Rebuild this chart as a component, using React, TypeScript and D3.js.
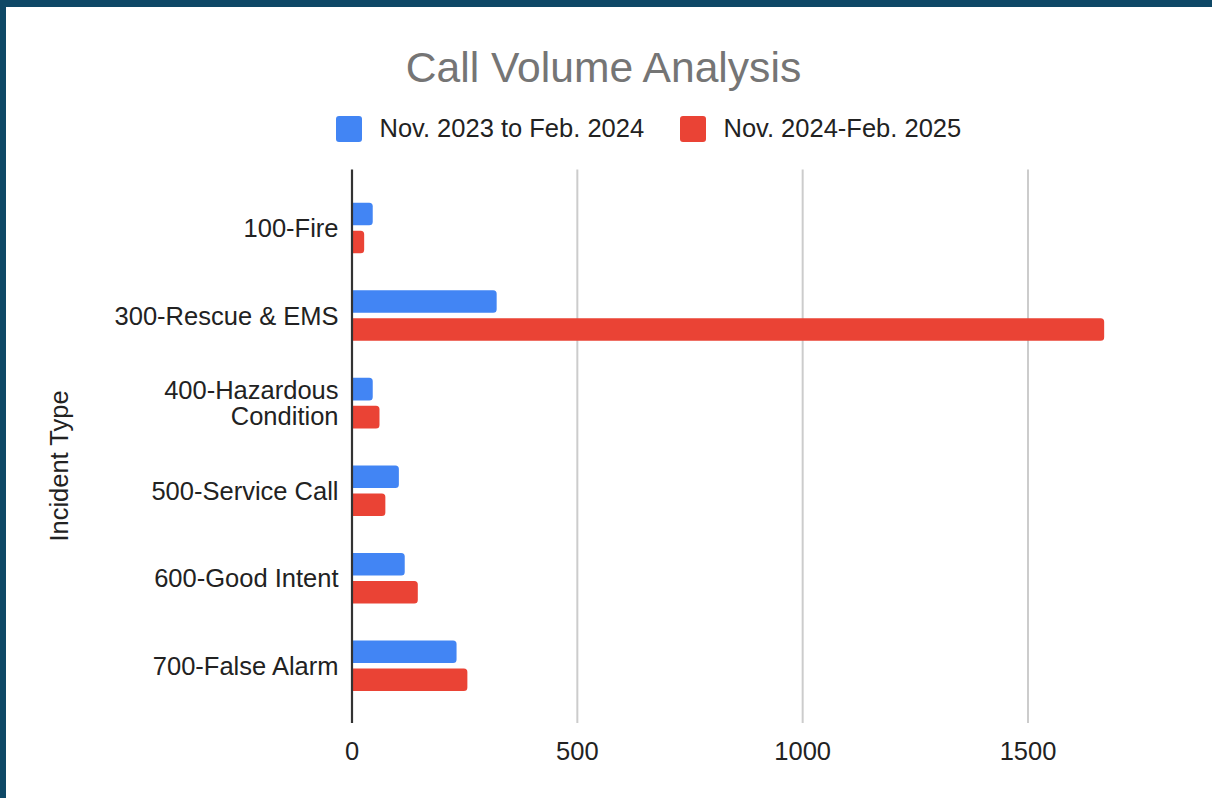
import React from "react";
import * as d3 from "d3";

const categories: string[][] = [
  ["100-Fire"],
  ["300-Rescue & EMS"],
  ["400-Hazardous", "Condition"],
  ["500-Service Call"],
  ["600-Good Intent"],
  ["700-False Alarm"],
];
const seriesNames = ["Nov. 2023 to Feb. 2024", "Nov. 2024-Feb. 2025"];
const series2023 = [46, 321, 46, 104, 117, 232];
const series2024 = [27, 1669, 61, 74, 146, 256];
const xTicks = [0, 500, 1000, 1500];
const colors = ["#4285F4", "#EA4335"];

const W = 1212;
const H = 798;
const FONT = "'Liberation Sans', Arial, Helvetica, sans-serif";

function barPath(x0: number, x1: number, y: number, h: number, r: number) {
  const w = x1 - x0;
  const rr = Math.min(r, w / 2, h / 2);
  const p = d3.path();
  p.moveTo(x0, y);
  p.lineTo(x1 - rr, y);
  p.arcTo(x1, y, x1, y + rr, rr);
  p.lineTo(x1, y + h - rr);
  p.arcTo(x1, y + h, x1 - rr, y + h, rr);
  p.lineTo(x0, y + h);
  p.closePath();
  return p.toString();
}

export default function App() {
  const x = d3.scaleLinear().domain([0, 1500]).range([352, 1028]);
  const keys = categories.map((c) => c.join(" "));
  const y = d3
    .scaleBand<string>()
    .domain(keys)
    .range([184.2, 709.6])
    .paddingInner(0.422)
    .paddingOuter(0.211);
  const inner = d3
    .scaleBand<number>()
    .domain([0, 1])
    .range([0, y.bandwidth()])
    .paddingInner(0.193);
  const data = [series2023, series2024];
  const gridTop = 169.5;
  const gridBottom = 723;

  return (
    <svg
      width={W}
      height={H}
      style={{ position: "absolute", left: 0, top: 0, background: "#fff" }}
      fontFamily={FONT}
    >
      <rect x={0} y={0} width={W} height={H} fill="#fff" />
      <rect x={0} y={0} width={W} height={7} fill="#0e4866" />
      <rect x={0} y={0} width={6} height={H} fill="#0e4866" />

      <text x={603.5} y={81.5} textAnchor="middle" fontSize={42.6} fill="#757575">
        Call Volume Analysis
      </text>

      {seriesNames.map((n, i) => {
        const lx = i === 0 ? 336 : 680;
        return (
          <g key={n}>
            <rect x={lx} y={116} width={26} height={26} rx={3} fill={colors[i]} />
            <text x={lx + 43.5} y={137.3} fontSize={25.5} fill="#222">
              {n}
            </text>
          </g>
        );
      })}

      {xTicks.map((t) => (
        <g key={t}>
          {t !== 0 && (
            <line
              x1={x(t)}
              x2={x(t)}
              y1={gridTop}
              y2={gridBottom}
              stroke="#cccccc"
              strokeWidth={2}
            />
          )}
          <text x={x(t)} y={759.5} textAnchor="middle" fontSize={25.5} fill="#222">
            {t}
          </text>
        </g>
      ))}

      {keys.map((k, ci) =>
        data.map((s, si) => {
          const yy = (y(k) as number) + (inner(si) as number);
          return (
            <path
              key={k + si}
              d={barPath(x(0), x(s[ci]), yy, inner.bandwidth(), 3.5)}
              fill={colors[si]}
            />
          );
        })
      )}

      <line
        x1={x(0)}
        x2={x(0)}
        y1={gridTop}
        y2={gridBottom}
        stroke="#333"
        strokeWidth={2.2}
      />

      {categories.map((lines, ci) => {
        const cy = (y(keys[ci]) as number) + y.bandwidth() / 2;
        const lh = 26;
        const start = cy - ((lines.length - 1) * lh) / 2;
        return (
          <text key={keys[ci]} textAnchor="end" fontSize={25.5} fill="#222">
            {lines.map((l, li) => (
              <tspan key={l} x={338.5} y={start + li * lh + 9}>
                {l}
              </tspan>
            ))}
          </text>
        );
      })}

      <text
        transform={`translate(68,466) rotate(-90)`}
        textAnchor="middle"
        fontSize={25.5}
        fill="#222"
      >
        Incident Type
      </text>
    </svg>
  );
}
